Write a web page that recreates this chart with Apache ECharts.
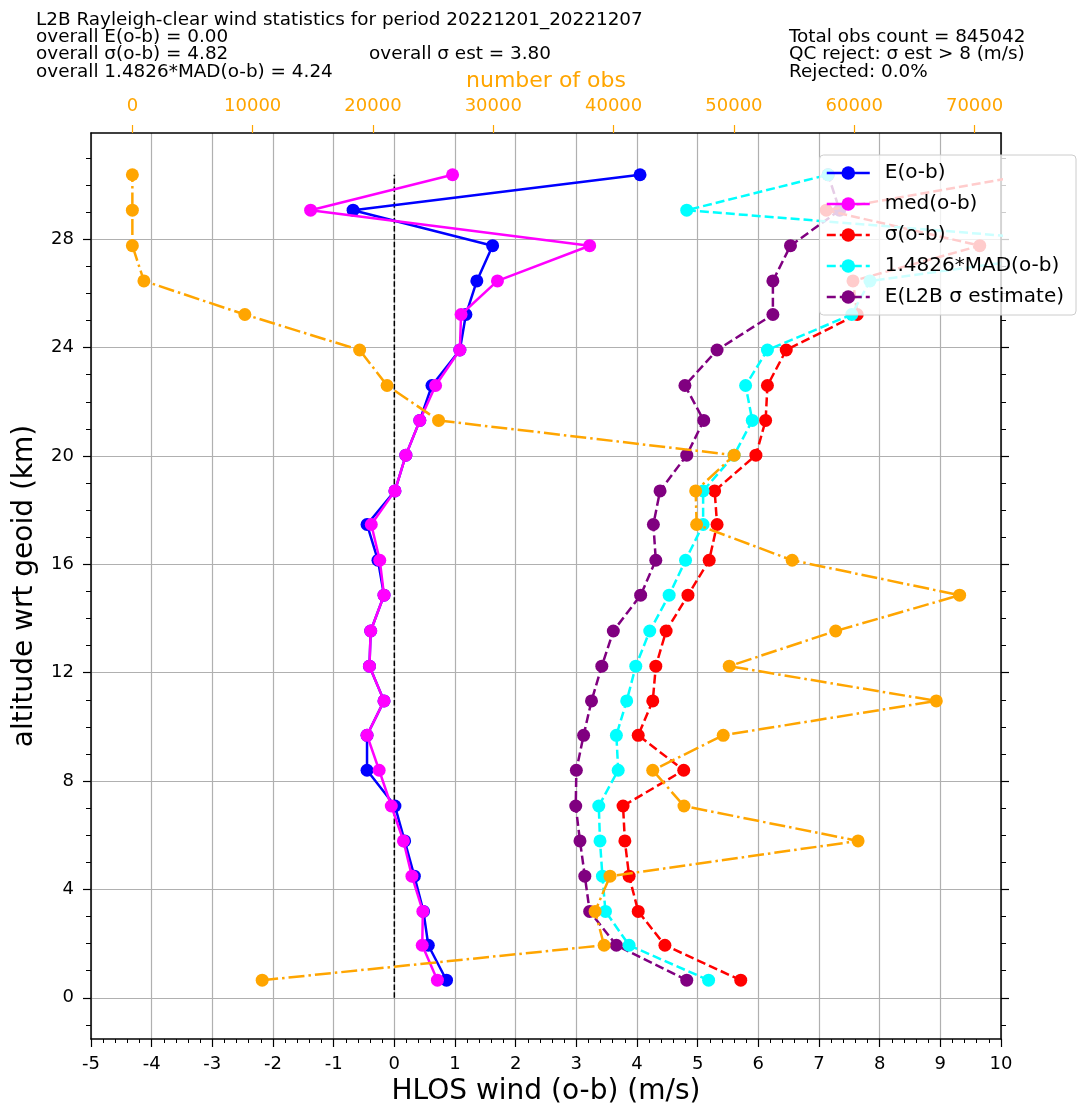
<!DOCTYPE html>
<html>
<head>
<meta charset="utf-8">
<script src="https://cdn.jsdelivr.net/npm/echarts@6/dist/echarts.min.js"></script>
<style>
html, body { margin: 0; padding: 0; background: #fff; }
#main { width: 1077px; height: 1111px; }
</style>
</head>
<body>
<div id="main"></div>
<script>
// altitude of each level (km)
var altitude = [0.65, 1.94, 3.19, 4.49, 5.79, 7.08, 8.40, 9.69, 10.96, 12.24, 13.54, 14.86,
    16.15, 17.47, 18.71, 20.03, 21.31, 22.60, 23.91, 25.22, 26.46, 27.76, 29.07, 30.38];
// HLOS wind o-b statistics (m/s)
var meanOmB = [0.86, 0.56, 0.48, 0.33, 0.17, 0.01, -0.45, -0.45, -0.17, -0.41, -0.39, -0.17,
    -0.27, -0.45, 0.01, 0.19, 0.42, 0.62, 1.08, 1.18, 1.36, 1.62, -0.68, 4.05];
var medOmB = [0.71, 0.46, 0.47, 0.29, 0.15, -0.05, -0.25, -0.45, -0.17, -0.41, -0.39, -0.17,
    -0.24, -0.38, 0.01, 0.19, 0.42, 0.68, 1.08, 1.10, 1.70, 3.22, -1.38, 0.96];
var sigmaOmB = [5.71, 4.46, 4.02, 3.87, 3.80, 3.77, 4.77, 4.02, 4.26, 4.31, 4.48, 4.84,
    5.19, 5.32, 5.28, 5.96, 6.12, 6.15, 6.46, 7.63, 7.56, 9.65, 7.12, 10.46];
var madOmB = [5.18, 3.87, 3.48, 3.43, 3.39, 3.37, 3.69, 3.66, 3.83, 3.98, 4.21, 4.53,
    4.80, 5.09, 5.09, 5.60, 5.90, 5.79, 6.15, 7.54, 7.84, 12.1, 4.82, 7.15];
var sigmaEst = [4.82, 3.66, 3.22, 3.14, 3.06, 2.99, 3.00, 3.12, 3.25, 3.42, 3.61, 4.06,
    4.31, 4.27, 4.38, 4.82, 5.10, 4.79, 5.32, 6.24, 6.24, 6.53, 7.34, 7.15];
// number of observations per level
var obsCount = [10790, 39210, 38460, 39700, 60320, 45850, 43250, 49110, 66820, 49610, 58460, 68760,
    54840, 46900, 46820, 50020, 25450, 21170, 18890, 9350, 960, 0, 0, 0];

// tick values
var altTicks = [0, 4, 8, 12, 16, 20, 24, 28];
var altMinorTicks = [-1, 1, 2, 3, 5, 6, 7, 9, 10, 11, 13, 14, 15, 17, 18, 19, 21, 22, 23, 25, 26, 27, 29, 30, 31];
var obsTicks = [0, 10000, 20000, 30000, 40000, 50000, 60000, 70000];

var headerLeft = [
    'L2B Rayleigh-clear wind statistics for period 20221201_20221207',
    'overall E(o-b) = 0.00',
    'overall σ(o-b) = 4.82',
    'overall 1.4826*MAD(o-b) = 4.24'
];
var headerMid = 'overall σ est = 3.80';
var headerRight = ['Total obs count = 845042', 'QC reject: σ est > 8 (m/s)', 'Rejected: 0.0%'];

var FONT = 'DejaVu Sans';

function pairs(xs) {
    var arr = [];
    for (var i = 0; i < xs.length; i++) {
        arr.push([xs[i], altitude[i]]);
    }
    return arr;
}

function statSeries(name, color, values, dashed, z) {
    return {
        name: name,
        type: 'line',
        xAxisIndex: 0,
        yAxisIndex: 0,
        data: pairs(values),
        symbol: 'circle',
        symbolSize: 13,
        z: z,
        itemStyle: { color: color },
        lineStyle: { color: color, width: 2.5, type: dashed ? [9, 4] : 'solid' },
        emphasis: { disabled: true }
    };
}

var chart = echarts.init(document.getElementById('main'));

// 上方表头文字
var graphics = [];
var baseY = [20, 37, 54.5, 72];
var headFont = '18.4px "' + FONT + '"';
headerLeft.forEach(function (t, i) {
    graphics.push({ type: 'text', style: { x: 36, y: baseY[i], text: t, font: headFont, fill: '#000', verticalAlign: 'middle' } });
});
graphics.push({ type: 'text', style: { x: 369, y: baseY[2], text: headerMid, font: headFont, fill: '#000', verticalAlign: 'middle' } });
headerRight.forEach(function (t, i) {
    graphics.push({ type: 'text', style: { x: 789, y: baseY[i + 1], text: t, font: headFont, fill: '#000', verticalAlign: 'middle' } });
});

var yCommon = {
    type: 'value',
    min: -1.52,
    max: 31.92,
    splitLine: { show: false },
    axisLabel: { show: false },
    axisLine: { show: false, onZero: false }
};

var option = {
    animation: false,
    textStyle: { fontFamily: FONT },
    graphic: graphics,
    grid: { left: 91, right: 76, top: 133, bottom: 72, containLabel: false },
    legend: {
        data: ['E(o-b)', 'med(o-b)', 'σ(o-b)', '1.4826*MAD(o-b)', 'E(L2B σ estimate)'],
        orient: 'vertical',
        right: 1,
        top: 155,
        z: 20,
        backgroundColor: 'rgba(255,255,255,0.8)',
        borderColor: '#cccccc',
        borderWidth: 1,
        borderRadius: 4,
        padding: [8, 12, 8, 6],
        itemGap: 11,
        itemWidth: 43,
        itemHeight: 17,
        selectedMode: false,
        lineStyle: { width: 2.5 },
        textStyle: { fontSize: 20, color: '#000', fontFamily: FONT, padding: [0, 0, 0, 10] }
    },
    xAxis: [{
        type: 'value',
        position: 'bottom',
        min: -5,
        max: 10,
        interval: 1,
        name: 'HLOS wind (o-b) (m/s)',
        nameLocation: 'middle',
        nameGap: 38,
        nameTextStyle: { fontSize: 28, color: '#000', fontFamily: FONT },
        axisLine: { show: true, onZero: false, lineStyle: { color: '#000', width: 1.5 } },
        axisTick: { show: true, length: 8, lineStyle: { color: '#000', width: 1.2 } },
        minorTick: { show: true, splitNumber: 5, length: 4, lineStyle: { color: '#000', width: 1 } },
        axisLabel: { fontSize: 18, color: '#000', margin: 16, fontFamily: FONT },
        splitLine: { show: true, lineStyle: { color: '#b0b0b0', width: 1.2 } }
    }, {
        type: 'value',
        position: 'top',
        min: -3438,
        max: 72198,
        name: 'number of obs',
        nameLocation: 'middle',
        nameGap: 40,
        nameTextStyle: { fontSize: 22, color: '#ffa500', fontFamily: FONT },
        axisLine: { show: true, onZero: false, lineStyle: { color: '#000', width: 1.5 } },
        axisTick: { show: true, length: 8, customValues: obsTicks, lineStyle: { color: '#ffa500', width: 1.2 } },
        axisLabel: {
            customValues: obsTicks, fontSize: 18, color: '#ffa500', margin: 18, fontFamily: FONT,
            formatter: function (v) { return String(Math.round(v)); }
        },
        splitLine: { show: false }
    }],
    yAxis: [{
        type: 'value',
        position: 'left',
        min: -1.52,
        max: 31.92,
        name: 'altitude wrt geoid (km)',
        nameLocation: 'middle',
        nameGap: 52,
        nameRotate: 90,
        nameTextStyle: { fontSize: 28, color: '#000', fontFamily: FONT },
        axisLine: { show: true, onZero: false, lineStyle: { color: '#000', width: 1.5 } },
        axisTick: { show: true, length: 8, customValues: altTicks, lineStyle: { color: '#000', width: 1.2 } },
        axisLabel: { customValues: altTicks, fontSize: 18, color: '#000', margin: 17, fontFamily: FONT },
        splitLine: { show: true, lineStyle: { color: '#b0b0b0', width: 1.2 } }
    },
    Object.assign({}, yCommon, {
        position: 'left',
        axisTick: { show: true, length: 5, customValues: altMinorTicks, lineStyle: { color: '#000', width: 1 } }
    }),
    Object.assign({}, yCommon, {
        position: 'right',
        axisLine: { show: true, onZero: false, lineStyle: { color: '#000', width: 1.5 } },
        axisTick: { show: true, length: 8, customValues: altTicks, lineStyle: { color: '#000', width: 1.2 } }
    }),
    Object.assign({}, yCommon, {
        position: 'right',
        axisTick: { show: true, length: 5, customValues: altMinorTicks, lineStyle: { color: '#000', width: 1 } }
    })],
    series: [
        statSeries('E(o-b)', '#0000ff', meanOmB, false, 2),
        statSeries('med(o-b)', '#ff00ff', medOmB, false, 3),
        statSeries('σ(o-b)', '#ff0000', sigmaOmB, true, 5),
        statSeries('1.4826*MAD(o-b)', '#00ffff', madOmB, true, 6),
        statSeries('E(L2B σ estimate)', '#800080', sigmaEst, true, 4),
        {
            name: 'zero',
            type: 'line',
            xAxisIndex: 0,
            yAxisIndex: 0,
            data: [[0, 0], [0, altitude[altitude.length - 1]]],
            symbol: 'none',
            z: 1,
            lineStyle: { color: '#000', width: 1.5, type: [5.5, 2.4] },
            emphasis: { disabled: true }
        },
        {
            name: 'number of obs',
            type: 'line',
            xAxisIndex: 1,
            yAxisIndex: 0,
            data: pairs(obsCount),
            symbol: 'circle',
            symbolSize: 13,
            z: 7,
            itemStyle: { color: '#ffa500' },
            lineStyle: { color: '#ffa500', width: 2.5, type: [16, 4, 2.5, 4] },
            emphasis: { disabled: true }
        }
    ]
};

chart.setOption(option);
</script>
</body>
</html>
